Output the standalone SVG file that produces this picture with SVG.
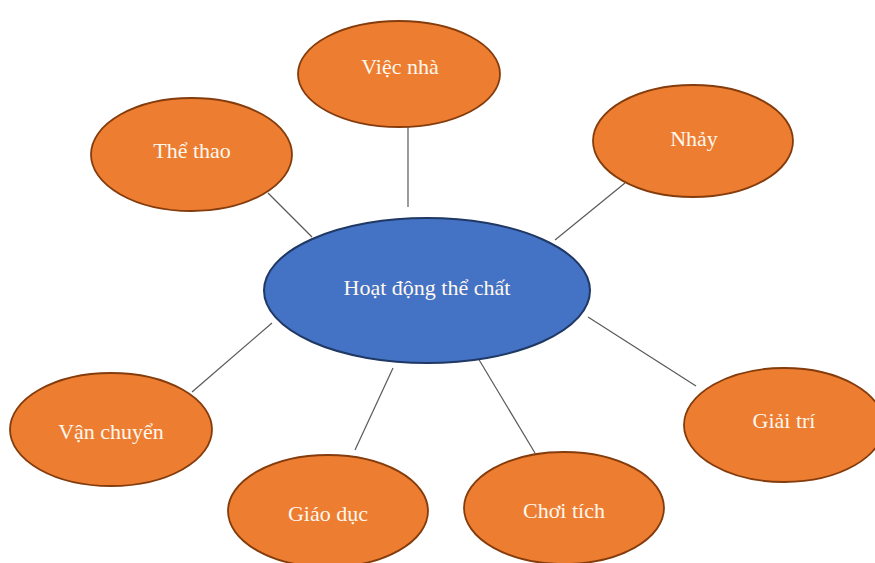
<svg xmlns="http://www.w3.org/2000/svg" width="875" height="563" viewBox="0 0 875 563">
  <style>
    .leaf { fill: #ED7D31; stroke: #843C0C; stroke-width: 1.8; }
    .hub { fill: #4472C4; stroke: #1F3864; stroke-width: 2; }
    .label { font-family: "Liberation Serif", "Times New Roman", serif; font-size: 22px; fill: #FFF8EE; text-anchor: middle; }
    .link { stroke: #595959; stroke-width: 1.2; fill: none; }
  </style>
  <rect width="875" height="563" fill="#FFFFFF"/>

  <!-- spokes from the hub to each activity -->
  <g id="connectors">
    <line class="link" x1="408" y1="127" x2="408" y2="207"/>
    <line class="link" x1="268" y1="193" x2="312" y2="237"/>
    <line class="link" x1="625" y1="183" x2="555" y2="240"/>
    <line class="link" x1="192" y1="392" x2="272" y2="323"/>
    <line class="link" x1="355" y1="450" x2="393" y2="368"/>
    <line class="link" x1="535" y1="453" x2="478" y2="358"/>
    <line class="link" x1="696" y1="386" x2="588" y2="317"/>
  </g>

  <g id="hub">
    <ellipse class="hub" cx="427" cy="290.5" rx="163" ry="72.5"/>
    <text class="label" x="427" y="295">Hoạt động thể chất</text>
  </g>

  <g id="viec-nha">
    <ellipse class="leaf" cx="399" cy="74" rx="101" ry="53"/>
    <text class="label" x="400" y="74">Việc nhà</text>
  </g>

  <g id="the-thao">
    <ellipse class="leaf" cx="191.5" cy="154.5" rx="100.5" ry="56.5"/>
    <text class="label" x="192" y="158">Thể thao</text>
  </g>

  <g id="nhay">
    <ellipse class="leaf" cx="693" cy="141" rx="100" ry="56"/>
    <text class="label" x="694" y="146">Nhảy</text>
  </g>

  <g id="van-chuyen">
    <ellipse class="leaf" cx="111" cy="429.5" rx="101" ry="56.5"/>
    <text class="label" x="111" y="439">Vận chuyển</text>
  </g>

  <g id="giao-duc">
    <ellipse class="leaf" cx="328" cy="511" rx="100" ry="56"/>
    <text class="label" x="328" y="521">Giáo dục</text>
  </g>

  <g id="choi-tich">
    <ellipse class="leaf" cx="564" cy="508" rx="100" ry="56"/>
    <text class="label" x="564" y="518">Chơi tích</text>
  </g>

  <g id="giai-tri">
    <ellipse class="leaf" cx="784" cy="425" rx="100" ry="57"/>
    <text class="label" x="784" y="428">Giải trí</text>
  </g>
</svg>
